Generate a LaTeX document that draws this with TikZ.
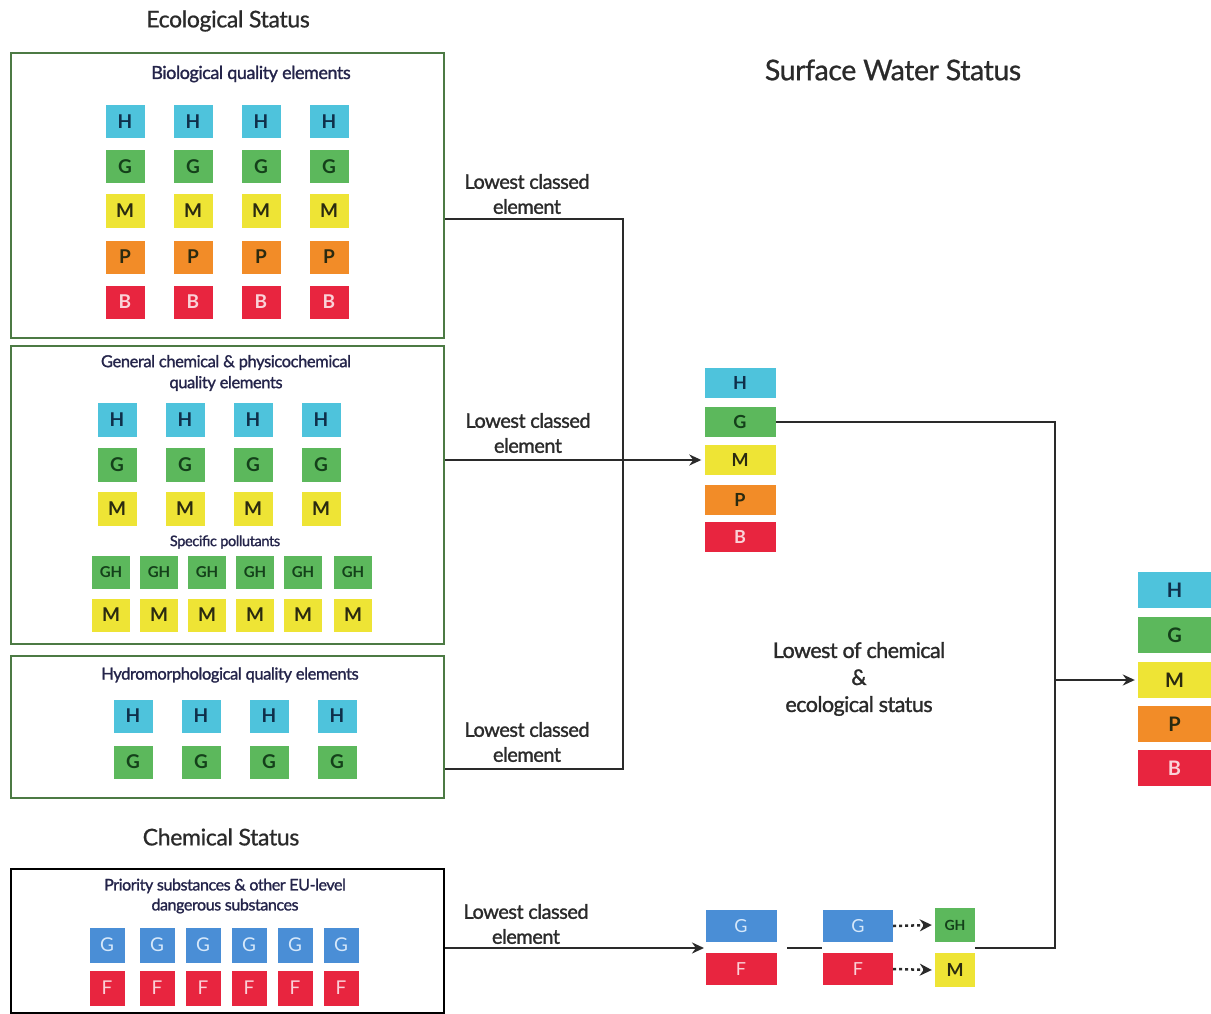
\documentclass[tikz,border=0pt]{standalone}
\usepackage{fontspec}
\setmainfont{Lato}
\newfontface\medfont{Lato}[FakeBold=1.3, LetterSpace=-2.5]
\newfontface\headfont{Lato}[FakeBold=0.8, LetterSpace=-1.5]
\usetikzlibrary{arrows.meta}
\definecolor{cH}{HTML}{4EC3DC}
\definecolor{cG}{HTML}{5CB85C}
\definecolor{cM}{HTML}{EEE435}
\definecolor{cP}{HTML}{F28C28}
\definecolor{cB}{HTML}{E8253F}
\definecolor{cBl}{HTML}{4A8ED6}
\definecolor{tH}{HTML}{0F2F4A}
\definecolor{tG}{HTML}{14401A}
\definecolor{tM}{HTML}{2A2A10}
\definecolor{tB}{HTML}{FAD2D8}
\definecolor{tBl}{HTML}{D6E8FA}
\definecolor{boxgreen}{HTML}{4C7A44}
\definecolor{ink}{HTML}{2A2A2A}
\tikzset{
  tile/.style={inner sep=0pt, minimum width=39pt, minimum height=33pt, font=\fontsize{19}{19}\selectfont\bfseries},
  qH/.style={tile, fill=cH, text=tH},
  qG/.style={tile, fill=cG, text=tG},
  qM/.style={tile, fill=cM, text=tM},
  qP/.style={tile, fill=cP, text=tM},
  qB/.style={tile, fill=cB, text=tB},
  qBl/.style={tile, fill=cBl, text=tBl},
  qF/.style={tile, fill=cB, text=tB},
  small/.style={minimum width=38pt, font=\fontsize{15}{15}\selectfont\bfseries},
  chem/.style={minimum width=35pt, minimum height=35pt, font=\fontsize{19}{19}\selectfont},
  midtile/.style={minimum width=71pt, minimum height=30pt, font=\fontsize{18}{18}\selectfont\bfseries},
  fintile/.style={minimum width=73pt, minimum height=36pt, font=\fontsize{20}{20}\selectfont\bfseries},
  bottile/.style={minimum width=71pt, minimum height=32pt, font=\fontsize{18}{18}\selectfont},
  gbox/.style={draw=boxgreen, line width=2pt, inner sep=0pt, anchor=north west, minimum width=433pt},
  kbox/.style={draw=black, line width=2.2pt, inner sep=0pt, anchor=north west, minimum width=433pt},
  head/.style={text=ink, font=\fontsize{23}{27}\selectfont\headfont},
  boxtitle/.style={text=ink!85!blue, align=center, font=\fontsize{16.5}{21}\selectfont\medfont},
  lbl/.style={text=ink, align=center, font=\fontsize{20}{25}\selectfont\medfont},
  conn/.style={draw=ink, line width=2pt},
  arr/.style={conn, -{Stealth[length=12pt,width=11pt]}},
  dotarr/.style={draw=ink, line width=2.5pt, dash pattern=on 3pt off 3pt, -{Stealth[length=12pt,width=12pt]}},
}
\begin{document}
\begin{tikzpicture}[x=1pt,y=-1pt]
\useasboundingbox[fill=white] (0,0) rectangle (1211,1014);

% headings
\node[head] (hEco) at (228,21) {Ecological Status};
\node[head] (hChem) at (221,837) {Chemical Status};
\node[text=ink, font=\fontsize{28.5}{31}\selectfont\headfont] (hSW) at (893,70) {Surface Water Status};

% boxes
\node[gbox, minimum height=285pt] (box1) at (10,52) {};
\node[gbox, minimum height=298pt] (box2) at (10,345) {};
\node[gbox, minimum height=142pt] (box3) at (10,655) {};
\node[kbox, minimum height=144pt] (box4) at (10,868) {};

% box 1
\node[boxtitle, font=\fontsize{18}{21}\selectfont\medfont] (t1) at (251,74) {Biological quality elements};
\foreach \x [count=\i] in {125,193,261,329} {
  \node[qH] (aH\i) at (\x,122) {H};
  \node[qG] (aG\i) at (\x,167) {G};
  \node[qM] (aM\i) at (\x,211) {M};
  \node[qP] (aP\i) at (\x,257) {P};
  \node[qB] (aB\i) at (\x,302) {B};
}

% box 2
\node[boxtitle] (t2) at (226,373) {General chemical \& physicochemical\\quality elements};
\foreach \x [count=\i] in {117,185,253,321} {
  \node[qH, minimum height=34pt] (bH\i) at (\x,420) {H};
  \node[qG, minimum height=34pt] (bG\i) at (\x,465) {G};
  \node[qM, minimum height=34pt] (bM\i) at (\x,509) {M};
}
\node[boxtitle, font=\fontsize{14.5}{16}\selectfont\medfont] (t2b) at (225,542) {Specific pollutants};
\foreach \x [count=\i] in {111,159,207,255,303,353} {
  \node[qG, small] (sGH\i) at (\x,572) {GH};
  \node[qM, minimum width=38pt] (sM\i) at (\x,615) {M};
}

% box 3
\node[boxtitle] (t3) at (230,675) {Hydromorphological quality elements};
\foreach \x [count=\i] in {133,201,269,337} {
  \node[qH] (cH\i) at (\x,716) {H};
  \node[qG] (cG\i) at (\x,762) {G};
}

% box 4
\node[boxtitle, font=\fontsize{16}{20}\selectfont\medfont] (t4) at (225,896) {Priority substances \& other EU-level\\dangerous substances};
\foreach \x [count=\i] in {107,157,203,249,295,341} {
  \node[qBl, chem] (dG\i) at (\x,945) {G};
  \node[qF, chem] (dF\i) at (\x,988) {F};
}

% middle stack (ecological status)
\node[qH, midtile] (mH) at (740,383) {H};
\node[qG, midtile] (mG) at (740,422) {G};
\node[qM, midtile] (mM) at (740,460) {M};
\node[qP, midtile] (mP) at (740,500) {P};
\node[qB, midtile] (mB) at (740,537) {B};

% final stack
\node[qH, fintile] (fH) at (1174.5,590) {H};
\node[qG, fintile] (fG) at (1174.5,635) {G};
\node[qM, fintile] (fM) at (1174.5,680) {M};
\node[qP, fintile] (fP) at (1174.5,724) {P};
\node[qB, fintile] (fB) at (1174.5,768) {B};

% bottom chemical stacks
\node[qBl, bottile] (eG) at (741,926) {G};
\node[qF, bottile] (eF) at (741,969) {F};
\node[qBl, bottile, minimum width=70pt] (gG) at (858,926) {G};
\node[qF, bottile, minimum width=70pt] (gF) at (858,969) {F};
\node[qG, minimum width=40pt, minimum height=34pt, inner sep=0pt, font=\fontsize{14}{14}\selectfont\bfseries] (rGH) at (955,925) {GH};
\node[qM, minimum width=40pt, minimum height=34pt, inner sep=0pt, font=\fontsize{18}{18}\selectfont\bfseries] (rM) at (955,970) {M};

% labels
\node[lbl] (l1) at (527,194) {Lowest classed\\element};
\node[lbl] (l2) at (528,433) {Lowest classed\\element};
\node[lbl] (l3) at (527,742) {Lowest classed\\element};
\node[lbl] (l4) at (526,924) {Lowest classed\\element};
\node[lbl, font=\fontsize{21.5}{27}\selectfont\medfont] (l5) at (859,679) {Lowest of chemical\\\&\\ecological status};

% connector coordinates
\coordinate (j1) at (623,219);
\coordinate (j3) at (623,769);
\coordinate (jc) at (704,948);
\coordinate (k1) at (787,948);
\coordinate (k2) at (822,948);
\coordinate (rTop) at (1055,422);
\coordinate (rBot) at (1055,948);
\coordinate (rMid) at (1055,680);
\coordinate (rIn) at (975,948);

% connectors
\draw[conn] (box1.east |- j1) -- (j1) -- (j3) -- (box3.east |- j3);
\draw[arr] (box2.east |- mM.west) -- ([xshift=-3pt]mM.west);
\draw[arr] (box4.east |- jc) -- (jc);
\draw[conn] (k1) -- (k2);
\draw[conn] (mG.east) -- (rTop) -- (rBot) -- (rIn);
\draw[arr] (rMid) -- ([xshift=-3pt]fM.west);
\draw[dotarr] (gG.east) -- ([xshift=-3pt]rGH.west);
\draw[dotarr] (gF.east) -- ([xshift=-3pt]rM.west);
\end{tikzpicture}
\end{document}
